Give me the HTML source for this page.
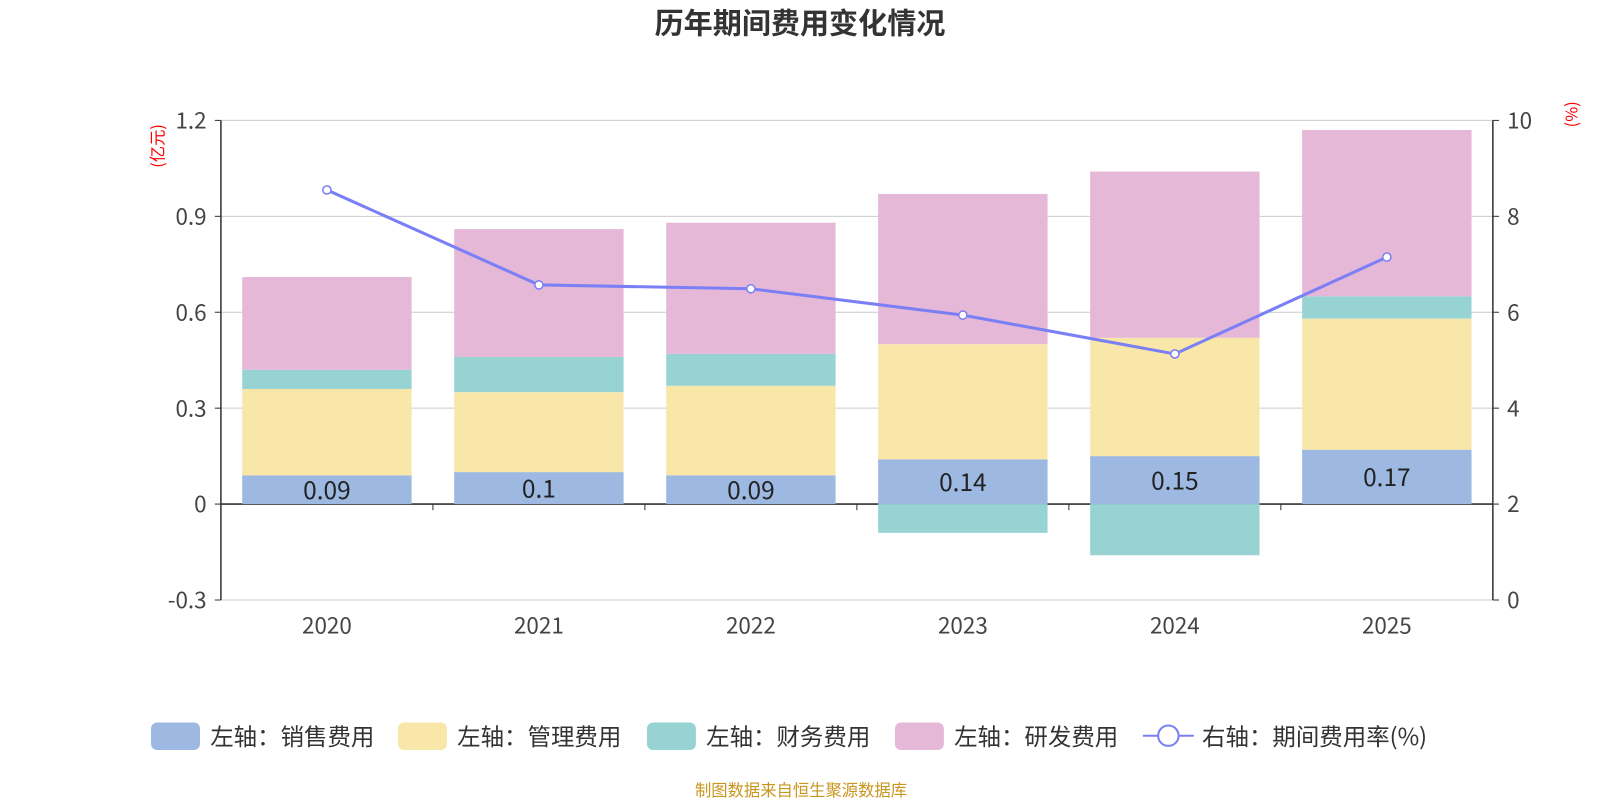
<!DOCTYPE html>
<html><head><meta charset="utf-8"><style>
body{margin:0;background:#fff;width:1600px;height:800px;overflow:hidden;font-family:"Noto Sans CJK SC",sans-serif}
</style></head><body>
<svg id="c" width="1600" height="800" xmlns="http://www.w3.org/2000/svg" font-family="Noto Sans CJK SC, Liberation Sans, sans-serif">
<g transform="scale(1.0204)">
<text x="784" y="33" text-anchor="middle" font-size="28.5" font-weight="bold" fill="#333">历年期间费用变化情况</text>
<text transform="translate(160,143) rotate(-90)" text-anchor="middle" font-size="16" fill="#f00">(亿元)</text>
<text transform="translate(1546,112) rotate(-90)" text-anchor="middle" font-size="16" fill="#f00">(%)</text>
<g id="grid"></g><g id="bars"></g><g id="axes"></g><g id="line"></g>
<g id="legend" font-size="23" fill="#333">
<rect x="148" y="708" width="48" height="27" rx="6" fill="#9db8e1"/>
<text x="206" y="730">左轴：销售费用</text>
<rect x="390" y="708" width="48" height="27" rx="6" fill="#f8e7a8"/>
<text x="448" y="730">左轴：管理费用</text>
<rect x="634" y="708" width="48" height="27" rx="6" fill="#98d3d4"/>
<text x="692" y="730">左轴：财务费用</text>
<rect x="877" y="708" width="48" height="27" rx="6" fill="#e6b8d8"/>
<text x="935" y="730">左轴：研发费用</text>
<line x1="1120" y1="721" x2="1170" y2="721" stroke="#7b7ff5" stroke-width="2"/>
<circle cx="1145" cy="721" r="10" fill="#fff" stroke="#7b7ff5" stroke-width="2"/>
<text x="1178" y="730">右轴：期间费用率(%)</text>
</g>
<text x="785" y="780" text-anchor="middle" font-size="16" fill="#c8961e">制图数据来自恒生聚源数据库</text>
</g>
</svg>
<script>
const categories=["2020","2021","2022","2023","2024","2025"];
const sales=[0.09,0.1,0.09,0.14,0.15,0.17];
const admin=[0.27,0.25,0.28,0.36,0.37,0.41];
const finance=[0.06,0.11,0.10,-0.09,-0.16,0.07];
const rd=[0.29,0.40,0.41,0.47,0.52,0.52];
const rate=[8.55,6.57,6.49,5.94,5.13,7.15];
const leftTicks=[-0.3,0,0.3,0.6,0.9,1.2];
const leftTickLabels=["-0.3","0","0.3","0.6","0.9","1.2"];
const rightTicks=[0,2,4,6,8,10];
const NS="http://www.w3.org/2000/svg";
const X0=216.5,X1=1463,bw=(X1-X0)/categories.length;
const yL=v=>494-v*(376/1.2);
const yR=v=>588-v*47;
const xC=i=>X0+bw*(i+0.5);
function mk(p,t,a){const e=document.createElementNS(NS,t);for(const k in a)e.setAttribute(k,a[k]);document.getElementById(p).appendChild(e);return e;}
leftTicks.forEach((t,i)=>{
 const g=mk('grid','line',{x1:X0,x2:X1,y1:yL(t),y2:yL(t),stroke:t===0?'#333':'#ccc','stroke-width':t===0?1.5:1});
 
 
 const tx=mk('axes','text',{x:X0-14,y:yL(t)+8,'text-anchor':'end','font-size':22,fill:'#444'});
 tx.textContent=leftTickLabels[i];
 
 
 mk('axes','line',{x1:X0-6,x2:X0,y1:yL(t),y2:yL(t),stroke:'#333'});
});
rightTicks.forEach(t=>{
 const tx=mk('axes','text',{x:X1+14,y:yR(t)+8,'font-size':22,fill:'#444'});
 tx.textContent=t;
 
 
 mk('axes','line',{x1:X1,x2:X1+6,y1:yR(t),y2:yR(t),stroke:'#333'});
});
mk('axes','line',{x1:X0,x2:X0,y1:yL(1.2),y2:yL(-0.3),stroke:'#333','stroke-width':1.5});
mk('axes','line',{x1:X1,x2:X1,y1:yL(1.2),y2:yL(-0.3),stroke:'#333','stroke-width':1.5});
const series=[[sales,'#9db8e1','bar-sales'],[admin,'#f8e7a8','bar-admin'],[finance,'#98d3d4','bar-finance'],[rd,'#e6b8d8','bar-rd']];
categories.forEach((c,i)=>{
 let pos=0,neg=0;const x=xC(i)-83;
 series.forEach(([arr,col,nm])=>{
  const v=arr[i];let a,b;
  if(v>=0){a=pos;b=pos+v;pos=b;}else{a=neg;b=neg+v;neg=b;}
  const r=mk('bars','rect',{x:x,width:166,y:Math.min(yL(a),yL(b)),height:Math.abs(yL(a)-yL(b)),fill:col});
  
  
 });
 const lb=mk('bars','text',{x:xC(i),y:(yL(0)+yL(sales[i]))/2+9,'text-anchor':'middle','font-size':24,fill:'#222'});
 lb.textContent=sales[i];
 
 
 const cl=mk('axes','text',{x:xC(i),y:621,'text-anchor':'middle','font-size':22,fill:'#444'});
 cl.textContent=c;
 
 
 if(i>0)mk('axes','line',{x1:X0+bw*i,x2:X0+bw*i,y1:494,y2:500,stroke:'#333'});
});
const pl=mk('line','polyline',{points:rate.map((v,i)=>xC(i)+','+yR(v)).join(' '),fill:'none',stroke:'#7b7ff5','stroke-width':3});


rate.forEach((v,i)=>{
 const p=mk('line','circle',{cx:xC(i),cy:yR(v),r:4,fill:'#fff',stroke:'#7b7ff5','stroke-width':1.5});
 
 
});
</script>
</body></html>
